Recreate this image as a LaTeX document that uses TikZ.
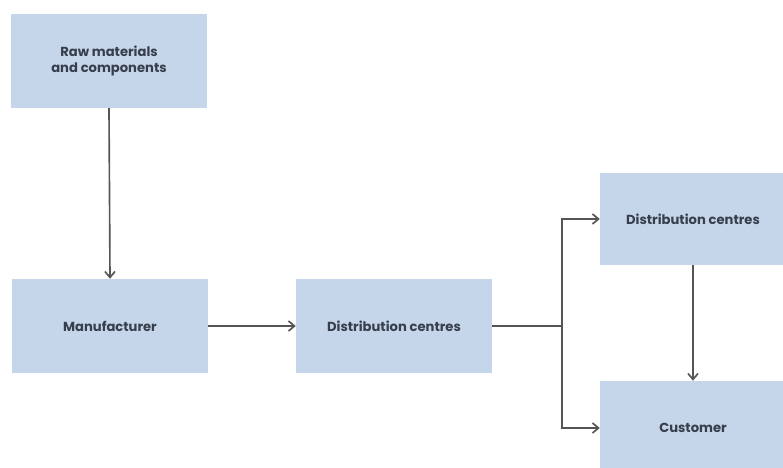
\documentclass[tikz,border=0pt]{standalone}
\usepackage{fontspec}
\setmainfont{Poppins}
\usepackage{tikz}
\usetikzlibrary{arrows.meta, positioning}
\definecolor{boxblue}{RGB}{197,213,234}
\definecolor{boxtext}{RGB}{55,62,76}
\definecolor{linegray}{RGB}{85,85,85}

\tikzset{
	stage/.style={fill=boxblue, text=boxtext, font=\bfseries\fontsize{11.2}{13}\selectfont,
		align=center, inner sep=0pt, minimum width=5.88cm, minimum height=2.82cm},
	flow/.style={draw=linegray, line width=1.4pt, -{Straight Barb[length=1.8mm, width=3mm]}}
}

\begin{document}
\begin{tikzpicture}[x=0.03cm, y=-0.03cm]
		
		% Canvas of the picture
		\useasboundingbox (0, 0) rectangle (783, 467);
		\clip (0, 0) rectangle (783, 467);
		
		% Stages of the chain
		\node[stage] (raw) at (109, 61) {Raw materials\\and components};
		\node[stage] (manu) at (110, 326) {Manufacturer};
		\node[stage] (distmid) at (394, 326) {Distribution centres};
		\node[stage, minimum width=5.58cm, minimum height=2.76cm] (distup) at (693, 219) {Distribution centres};
		\node[stage, minimum width=5.58cm] (cust) at (693, 428) {Customer};
		
		% Flows between them
		\draw[flow] (raw.south) -- (manu.north);
		\draw[flow] (manu.east) -- (distmid.west);
		\draw[draw=linegray, line width=1.4pt] (distmid.east) -- ++(70, 0) coordinate (split);
		\draw[flow] (split) |- (distup.west);
		\draw[flow] (split) |- (cust.west);
		\draw[flow] (distup.south) -- (cust.north);
	\end{tikzpicture}
\end{document}
